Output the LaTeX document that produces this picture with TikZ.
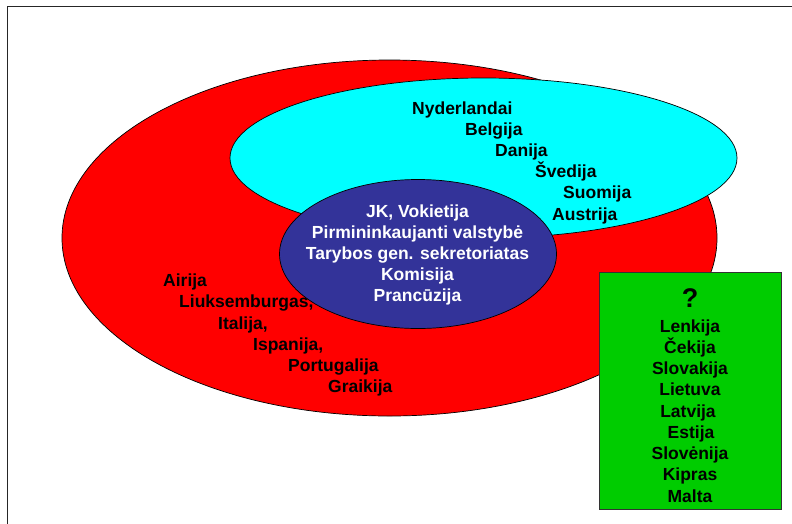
\documentclass[tikz,border=0pt]{standalone}
\usepackage{fontspec}
\setmainfont{Liberation Sans}
\usetikzlibrary{shapes.geometric}
\definecolor{eured}{RGB}{255,0,0}
\definecolor{eucyan}{RGB}{0,255,255}
\definecolor{eublue}{RGB}{51,51,153}
\definecolor{eugreen}{RGB}{0,204,0}
\tikzset{
  blob/.style={ellipse, draw=black, line width=0.7pt, inner sep=0pt, outer sep=0pt},
  lbl/.style={inner sep=0pt, anchor=base west, font=\fontsize{17.5}{21}\selectfont\bfseries},
  clbl/.style={inner sep=0pt, anchor=base, font=\fontsize{17.5}{21}\selectfont\bfseries},
}
\begin{document}
\begin{tikzpicture}[x=1pt,y=-1pt]
\useasboundingbox (0,0) rectangle (792,523);
% frame
\coordinate (fb) at (7.5,530);
\coordinate (fc) at (7.5,6.8);
\coordinate (fr) at (800,6.8);
\draw[line width=1.3pt, black!85] (fb) -- (fc) -- (fr);
% ellipses
\node[blob, fill=eured, minimum width=655pt, minimum height=356pt] (red) at (389.5,238) {};
\node[blob, fill=eucyan, minimum width=507pt, minimum height=160pt] (cyan) at (483.5,158) {};
\node[blob, fill=eublue, minimum width=277pt, minimum height=149pt] (blue) at (418,254) {};
% green box
\node[draw=black!80, line width=0.8pt, fill=eugreen, minimum width=182pt, minimum height=237pt, inner sep=0pt] (green) at (690,391) {};
% cyan texts
\node[lbl] (c1) at (412,114) {Nyderlandai};
\node[lbl] (c2) at (465,135.2) {Belgija};
\node[lbl] (c3) at (495,156.4) {Danija};
\node[lbl] (c4) at (535,177.6) {Švedija};
\node[lbl] (c5) at (563,198.8) {Suomija};
\node[lbl] (c6) at (552,220) {Austrija};
% blue texts
\node[clbl, text=white] (b1) at (417.5,217.7) {JK, Vokietija};
\node[clbl, text=white] (b2) at (417.5,238.7) {Pirmininkaujanti valstybė};
\node[clbl, text=white] (b3) at (417.5,259.7) {Tarybos gen. sekretoriatas};
\node[clbl, text=white] (b4) at (417.5,280.7) {Komisija};
\node[clbl, text=white] (b5) at (417.5,301.7) {Prancūzija};
% red texts
\node[lbl] (r1) at (163,286.7) {Airija};
\node[lbl] (r2) at (179,307.9) {Liuksemburgas,};
\node[lbl] (r3) at (218,329.1) {Italija,};
\node[lbl] (r4) at (253,350.3) {Ispanija,};
\node[lbl] (r5) at (288,371.5) {Portugalija};
\node[lbl] (r6) at (328,392.7) {Graikija};
% green texts
\node[inner sep=0pt, anchor=base, font=\fontsize{27}{30}\selectfont\bfseries] (q) at (690,307) {?};
\node[clbl] (g1) at (690,332) {Lenkija};
\node[clbl] (g2) at (690,353.25) {Čekija};
\node[clbl] (g3) at (690,374.5) {Slovakija};
\node[clbl] (g4) at (690,395.75) {Lietuva};
\node[clbl] (g5) at (688,417) {Latvija};
\node[clbl] (g6) at (691,438.25) {Estija};
\node[clbl] (g7) at (690,459.5) {Slovėnija};
\node[clbl] (g8) at (690,480.75) {Kipras};
\node[clbl] (g9) at (690,502) {Malta};
\end{tikzpicture}
\end{document}
